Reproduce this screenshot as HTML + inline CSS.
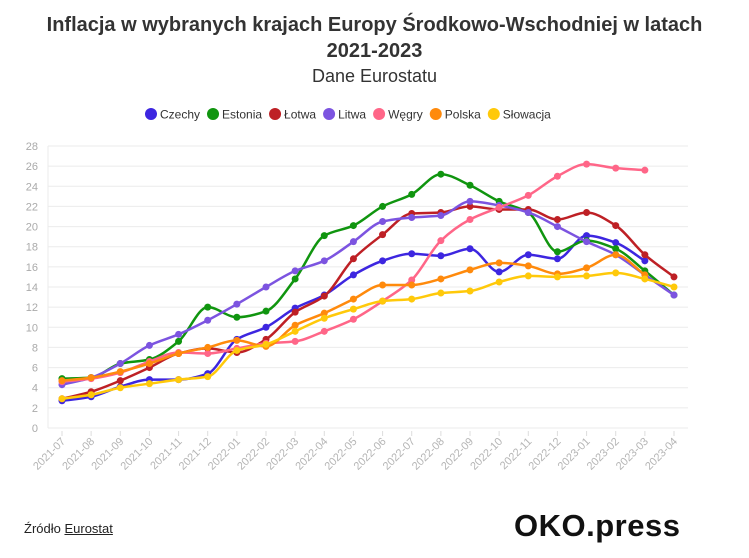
<!DOCTYPE html>
<html><head><meta charset="utf-8"><style>
body{margin:0;background:#fff;font-family:"Liberation Sans","DejaVu Sans",sans-serif;}
#wrap{position:relative;width:749px;height:558px;overflow:hidden;}
.t{position:absolute;left:0;width:749px;text-align:center;color:#333;}
</style></head><body>
<div id="wrap">
<div class="t" style="top:12px;font-size:20px;font-weight:bold;line-height:26px;">Inflacja w wybranych krajach Europy Środkowo-Wschodniej w latach<br>2021-2023</div>
<div class="t" style="top:66px;font-size:18px;">Dane Eurostatu</div>
<svg id="svg" width="749" height="558" style="position:absolute;left:0;top:0"></svg>
<div style="position:absolute;left:24px;top:521px;font-size:13px;color:#222;">Źródło <span style="text-decoration:underline">Eurostat</span></div>
<div style="position:absolute;left:514px;top:508px;font-size:31px;font-weight:bold;color:#111;letter-spacing:0.5px;">OKO.press</div>
</div>
<script>
const categories=["2021-07","2021-08","2021-09","2021-10","2021-11","2021-12","2022-01","2022-02","2022-03","2022-04","2022-05","2022-06","2022-07","2022-08","2022-09","2022-10","2022-11","2022-12","2023-01","2023-02","2023-03","2023-04"];
const yTicks=[0,2,4,6,8,10,12,14,16,18,20,22,24,26,28];
const seriesNames=["Czechy","Estonia","Łotwa","Litwa","Węgry","Polska","Słowacja"];
const seriesColors=["#3d26e0","#10950f","#be2025","#7c54e0","#ff6688","#ff8a0c","#ffc90a"];
const czechy=[2.7,3.1,4.1,4.8,4.8,5.4,8.8,10.0,11.9,13.2,15.2,16.6,17.3,17.1,17.8,15.5,17.2,16.8,19.1,18.4,16.6,null];
const estonia=[4.9,5.0,6.4,6.8,8.6,12.0,11.0,11.6,14.8,19.1,20.1,22.0,23.2,25.2,24.1,22.5,21.4,17.5,18.6,17.8,15.6,13.2];
const lotwa=[2.9,3.6,4.7,6.0,7.4,7.9,7.5,8.8,11.5,13.1,16.8,19.2,21.3,21.4,22.0,21.7,21.7,20.7,21.4,20.1,17.2,15.0];
const litwa=[4.3,5.0,6.4,8.2,9.3,10.7,12.3,14.0,15.6,16.6,18.5,20.5,20.9,21.1,22.5,22.1,21.4,20.0,18.5,17.2,15.2,13.2];
const wegry=[4.6,4.9,5.5,6.6,7.5,7.4,7.9,8.4,8.6,9.6,10.8,12.6,14.7,18.6,20.7,21.9,23.1,25.0,26.2,25.8,25.6,null];
const polska=[4.7,5.0,5.6,6.4,7.4,8.0,8.7,8.1,10.2,11.4,12.8,14.2,14.2,14.8,15.7,16.4,16.1,15.3,15.9,17.2,15.2,null];
const slowacja=[2.9,3.3,4.0,4.4,4.8,5.1,7.7,8.3,9.6,10.9,11.8,12.6,12.8,13.4,13.6,14.5,15.1,15.0,15.1,15.4,14.8,14.0];
const allSeries=[czechy,estonia,lotwa,litwa,wegry,polska,slowacja];

const NS="http://www.w3.org/2000/svg";
const svg=document.getElementById('svg');
const X0=62,X1=674,Y0=428,Y1=146,YMAX=28;
const xs=i=>X0+(X1-X0)*i/(categories.length-1);
const ys=v=>Y0-(Y0-Y1)*v/YMAX;
function mk(tag,attrs){const e=document.createElementNS(NS,tag);for(const k in attrs)e.setAttribute(k,attrs[k]);svg.appendChild(e);return e;}
yTicks.forEach(t=>{
 const l=mk('line',{x1:48,x2:688,y1:ys(t),y2:ys(t),stroke:'#ebebeb','stroke-width':1});
 
 
 const tx=mk('text',{x:38,y:ys(t)+4,'text-anchor':'end','font-size':11,fill:'#aaa','font-family':'Liberation Sans, sans-serif'});
 tx.textContent=t;
 
 
});
const ax=mk('line',{x1:48,x2:48,y1:Y1,y2:Y0,stroke:'#ebebeb'});


categories.forEach((c,i)=>{
 const tk=mk('line',{x1:xs(i),x2:xs(i),y1:Y0+3,y2:Y0+8,stroke:'#ddd'});
 
 
 const tx=mk('text',{x:xs(i)+4,y:Y0+14,'text-anchor':'end','font-size':11,fill:'#b5b5b5','font-family':'Liberation Sans, sans-serif',transform:`rotate(-45 ${xs(i)+4} ${Y0+14})`});
 tx.textContent=c;
 
 
});
function pathFor(pts){
 const n=pts.length;if(n<2)return '';
 const dx=[],m=[],t=[];
 for(let i=0;i<n-1;i++){dx.push(pts[i+1][0]-pts[i][0]);m.push((pts[i+1][1]-pts[i][1])/dx[i]);}
 t[0]=m[0];t[n-1]=m[n-2];
 for(let i=1;i<n-1;i++){t[i]=(m[i-1]*m[i]<=0)?0:(3*(dx[i-1]+dx[i]))/((2*dx[i]+dx[i-1])/m[i-1]+(dx[i]+2*dx[i-1])/m[i]);}
 let d=`M${pts[0][0]},${pts[0][1]}`;
 for(let i=0;i<n-1;i++){const h=dx[i]/3;d+=` C${pts[i][0]+h},${pts[i][1]+t[i]*h} ${pts[i+1][0]-h},${pts[i+1][1]-t[i+1]*h} ${pts[i+1][0]},${pts[i+1][1]}`;}
 return d;
}
allSeries.forEach((s,si)=>{
 const pts=[];s.forEach((v,i)=>{if(v!==null)pts.push([xs(i),ys(v)]);});
 const p=mk('path',{d:pathFor(pts),fill:'none',stroke:seriesColors[si],'stroke-width':2.5});
 
 
 pts.forEach(q=>{
  const c=mk('circle',{cx:q[0],cy:q[1],r:3.5,fill:seriesColors[si]});
  
  
 });
});
let lx=145;
seriesNames.forEach((n,i)=>{
 const g=mk('g',{});
 
 
 const c=document.createElementNS(NS,'circle');c.setAttribute('cx',lx+6);c.setAttribute('cy',114);c.setAttribute('r',6);c.setAttribute('fill',seriesColors[i]);g.appendChild(c);
 const t=document.createElementNS(NS,'text');t.setAttribute('x',lx+15);t.setAttribute('y',118.5);t.setAttribute('font-size',12);t.setAttribute('fill','#333');t.setAttribute('font-family','Liberation Sans, sans-serif');t.textContent=n;g.appendChild(t);
 lx+=15+t.getComputedTextLength()+7;
});
</script>
</body></html>
